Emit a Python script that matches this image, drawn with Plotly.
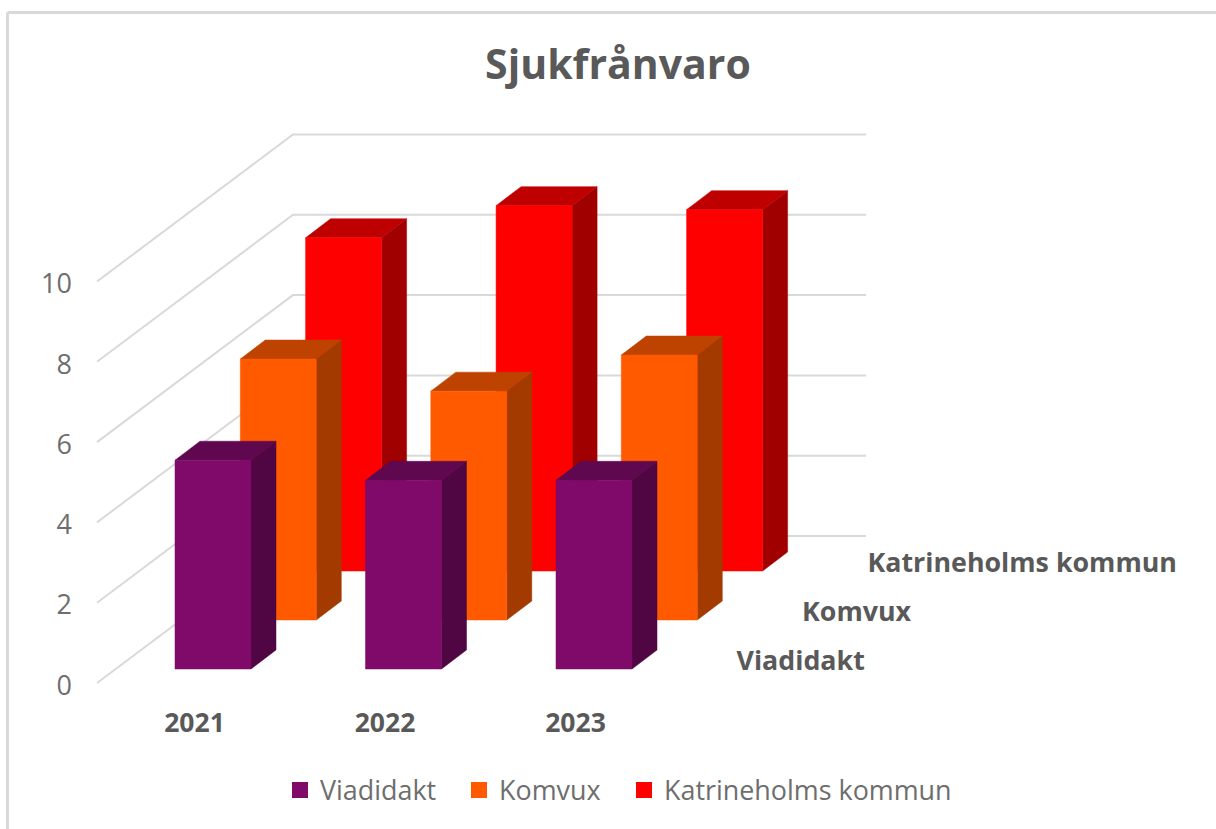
import plotly.graph_objects as go

# ---- data ----
years = ["2021", "2022", "2023"]
series_names = ["Viadidakt", "Komvux", "Katrineholms kommun"]
viadidakt = [5.2, 4.7, 4.7]
komvux = [6.5, 5.7, 6.6]
katrineholm = [8.3, 9.1, 9.0]
y_ticks = [0, 2, 4, 6, 8, 10]
title_text = "Sjukfrånvaro"

series_values = [viadidakt, komvux, katrineholm]
front_cols = ["#7F0A6A", "#FF5A00", "#FF0000"]
side_cols = ["#4F0642", "#A33A00", "#A00000"]
top_cols = ["#5F0850", "#BF4300", "#BF0000"]
legend_text_px = [322, 501, 666]

W, H = 1216, 829
# axis scale: one category = UX px, one value unit = UY px
UX, UY = 190.5, 40.15
ORIGIN_X, ORIGIN_Y = 175.0, 683.0
TEXT = "#595959"
FONT = "Open Sans"

# oblique projection parameters (in axis units)
BAR_W = 76 / UX
ROW_DX, ROW_DY = 65.3 / UX, 49 / UY      # shift between depth rows
BAR_DX, BAR_DY = 25 / UX, 19 / UY        # depth of one bar
BASE_Y = 14 / UY
WALL_L, WALL_B, WALL_R = -78 / UX, 118 / UX, 691 / UX
WALL_DY = 147 / UY


def px_x(p):
    return (p - ORIGIN_X) / UX


def px_y(p):
    return (ORIGIN_Y - p) / UY


fig = go.Figure()

# gridlines on side and back walls
gx, gy = [], []
for t in y_ticks:
    gx += [WALL_L, WALL_B, WALL_R, None]
    gy += [t, t + WALL_DY, t + WALL_DY, None]
fig.add_trace(go.Scatter(x=gx, y=gy, mode="lines", showlegend=False, hoverinfo="skip",
                         line=dict(color="#D9D9D9", width=2)))


def poly(points):
    xs, ys = [], []
    for p in points:
        xs += [q[0] for q in p] + [p[0][0], None]
        ys += [q[1] for q in p] + [p[0][1], None]
    return xs, ys


for s in [2, 1, 0]:
    fronts, sides, tops = [], [], []
    for i, v in enumerate(series_values[s]):
        x0 = i + s * ROW_DX
        x1 = x0 + BAR_W
        b = BASE_Y + s * ROW_DY
        t = b + v
        fronts.append([(x0, b), (x1, b), (x1, t), (x0, t)])
        sides.append([(x1, b), (x1 + BAR_DX, b + BAR_DY), (x1 + BAR_DX, t + BAR_DY), (x1, t)])
        tops.append([(x0, t), (x1, t), (x1 + BAR_DX, t + BAR_DY), (x0 + BAR_DX, t + BAR_DY)])
    for pts, col in ((sides, side_cols[s]), (tops, top_cols[s]), (fronts, front_cols[s])):
        xs, ys = poly(pts)
        fig.add_trace(go.Scatter(x=xs, y=ys, mode="lines", fill="toself", fillcolor=col,
                                 line=dict(color=col, width=0.5), showlegend=False,
                                 hoverinfo="skip", name=series_names[s]))

# legend entries: one positioned legend per series
legend_ids = ["legend", "legend2", "legend3"]
for s in range(3):
    fig.add_trace(go.Scatter(x=[None], y=[None], mode="markers", name=series_names[s],
                             legend=legend_ids[s],
                             marker=dict(symbol="square", size=16, color=front_cols[s])))

# value axis labels
fig.add_trace(go.Scatter(x=[px_x(72)] * len(y_ticks), y=[t - 5 / UY for t in y_ticks], mode="text",
                         text=[str(t) for t in y_ticks], textposition="middle left",
                         textfont=dict(family=FONT, size=27, color="#6E6E6E"),
                         showlegend=False, hoverinfo="skip"))
# category labels
fig.add_trace(go.Scatter(x=[i + px_x(194.5) for i in range(3)], y=[px_y(725)] * 3, mode="text",
                         text=years, textposition="middle center",
                         textfont=dict(family=FONT, size=26.5, color=TEXT, weight="bold"),
                         showlegend=False, hoverinfo="skip"))
# depth labels
fig.add_trace(go.Scatter(x=[px_x(736.5 + 65.5 * s) for s in range(3)],
                         y=[px_y(663.5 - 49 * s) for s in range(3)], mode="text",
                         text=series_names, textposition="middle right",
                         textfont=dict(family=FONT, size=26.8, color=TEXT, weight="bold"),
                         showlegend=False, hoverinfo="skip"))

legends = {}
for s, lid in enumerate(legend_ids):
    legends[lid] = dict(orientation="h", x=(legend_text_px[s] - 42) / W, y=1 - 790 / H,
                        xanchor="left", yanchor="middle",
                        font=dict(family=FONT, size=26.9, color="#6E6E6E"),
                        bgcolor="rgba(0,0,0,0)")

fig.update_layout(
    width=W, height=H, margin=dict(l=0, r=0, t=0, b=0, autoexpand=False),
    paper_bgcolor="white", plot_bgcolor="white",
    font=dict(family=FONT, color=TEXT),
    title=dict(text=title_text, x=618 / W, y=1 - 65 / H, xanchor="center", yanchor="middle",
               font=dict(family=FONT, size=41, color=TEXT, weight="bold")),
    xaxis=dict(range=[px_x(0), px_x(W)], visible=False, fixedrange=True),
    yaxis=dict(range=[px_y(H), px_y(0)], visible=False, fixedrange=True),
    shapes=[
        dict(type="line", xref="paper", yref="paper", x0=7.5 / W, x1=1, y0=1 - 12.5 / H, y1=1 - 12.5 / H,
             line=dict(color="#D9D9D9", width=3)),
        dict(type="line", xref="paper", yref="paper", x0=7.5 / W, x1=7.5 / W, y0=0, y1=1 - 12.5 / H,
             line=dict(color="#D9D9D9", width=3)),
    ],
    **legends,
)
fig.write_html("out.html", config={"displayModeBar": False},
               post_script="document.body.style.margin='0';document.body.style.overflow='hidden';")
